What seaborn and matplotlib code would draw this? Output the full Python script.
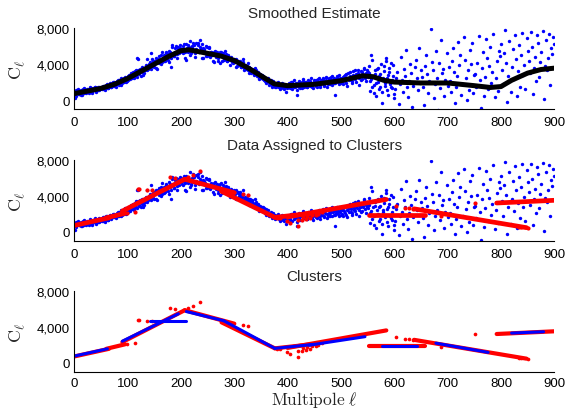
import numpy as np
import pandas as pd
import matplotlib
matplotlib.use('Agg')
import matplotlib.pyplot as plt
import seaborn as sns

# observed power spectrum, C_l in units of 100, 25 values per row
# even multipoles l = 2, 4, ..., 900 (50 multipoles per row)
ell_even = np.arange(2, 902, 2)
cl_even_rows = [
    [2, 11, 9, 7, 10, 6, 9, 12, 8, 10, 9, 12, 10, 8, 11, 13, 9, 12, 14, 10, 12, 11, 15, 12, 14],
    [15, 12, 16, 13, 17, 14, 13, 18, 15, 19, 16, 20, 17, 15, 21, 18, 22, 19, 17, 23, 21, 25, 20, 24, 27],
    [27, 23, 29, 25, 31, 26, 30, 34, 47, 46, 29, 35, 31, 28, 36, 33, 38, 46, 35, 40, 36, 52, 46, 38, 44],
    [44, 36, 46, 41, 45, 50, 42, 47, 50, 44, 53, 46, 51, 42, 53, 37, 61, 49, 54, 60, 47, 57, 52, 58, 55],
    [57, 52, 62, 54, 45, 58, 61, 50, 53, 60, 64, 56, 52, 63, 55, 61, 54, 67, 57, 47, 58, 55, 49, 59, 52],
    [58, 49, 53, 50, 44, 54, 51, 48, 52, 43, 50, 53, 43, 49, 45, 55, 48, 44, 50, 46, 39, 48, 44, 41, 46],
    [45, 37, 44, 39, 42, 37, 41, 46, 36, 39, 35, 38, 41, 30, 36, 31, 35, 29, 36, 30, 27, 31, 23, 29, 25],
    [28, 23, 26, 21, 25, 20, 24, 19, 22, 17, 21, 16, 19, 15, 18, 20, 14, 17, 13, 19, 15, 18, 9, 16, 14],
    [18, 14, 20, 12, 17, 22, 15, 19, 6, 16, 21, 13, 18, 23, 15, 20, 17, 14, 22, 19, 16, 24, 18, 13, 20],
    [21, 16, 23, 18, 14, 22, 19, 25, 17, 21, 26, 15, 20, 24, 18, 22, 27, 19, 6, 23, 25, 20, 28, 22, 19],
    [24, 18, 27, 21, 29, 16, 25, 31, 22, 19, 28, 24, 33, 20, 26, 30, 17, 27, 32, 23, 29, 35, 21, 28, 31],
    [30, 21, 50, 14, 27, 8, 33, 19, 24, 36, 12, 29, -3, 22, 38, 16, 43, 25, 6, 31, 18, 41, 13, 27, 2],
    [12, 25, 31, -4, 18, 48, 22, 9, 35, 27, 56, 14, 3, 21, 40, 30, -8, 16, 37, 45, 24, 11, 58, 19, 33],
    [26, 15, -6, 38, 50, 29, 8, 21, 79, 42, 33, 2, 18, 55, 24, -11, 41, 13, 67, 30, 35, 4, 22, 52, 16],
    [37, 21, 9, 44, 58, 31, -3, 14, 27, 65, 39, 50, 6, 18, 70, 45, 25, 0, 33, 11, 56, 40, 63, 8, 28],
    [29, 15, 41, 71, 22, -9, 36, 53, 5, 26, 68, 47, 12, 38, 59, 19, 31, 74, 3, 24, 43, 10, 55, 49, 62],
    [34, 18, 52, 78, 41, -2, 27, 66, 9, 37, 57, 23, 73, 46, 4, 32, 61, 15, 50, 75, 28, 39, 12, 69, 55],
    [44, 30, 76, 59, 7, 36, 48, 21, 72, 64, 26, 42, 53, 77, 1, 38, 67, 33, 47, 74, 17, 58, 51, 70, 62],
]
# odd multipoles l = 1, 3, ..., 599
ell_odd = np.arange(1, 601, 2)
cl_odd_rows = [
    [8, 5, 10, 12, 7, 9, 11, 6, 10, 13, 8, 11, 9, 12, 14, 10, 8, 13, 11, 15, 9, 12, 14, 11, 13],
    [12, 16, 14, 11, 15, 18, 13, 16, 19, 14, 17, 20, 16, 19, 18, 22, 17, 21, 24, 19, 23, 20, 26, 22, 21],
    [22, 28, 24, 30, 27, 24, 32, 28, 26, 34, 30, 33, 27, 37, 32, 30, 36, 39, 33, 37, 42, 35, 39, 43, 37],
    [42, 47, 35, 44, 49, 43, 40, 54, 46, 43, 52, 48, 45, 55, 50, 47, 59, 52, 49, 58, 53, 51, 59, 55, 61],
    [53, 60, 56, 47, 62, 57, 54, 59, 66, 52, 58, 55, 61, 48, 57, 64, 53, 59, 56, 62, 47, 57, 54, 60, 49],
    [51, 59, 48, 54, 52, 42, 55, 50, 53, 47, 51, 41, 54, 49, 52, 46, 50, 51, 43, 49, 45, 47, 42, 45, 43],
    [42, 46, 38, 43, 40, 44, 37, 39, 42, 34, 38, 35, 33, 37, 34, 30, 34, 32, 28, 31, 33, 28, 30, 25, 28],
    [25, 27, 22, 24, 19, 23, 21, 17, 20, 18, 15, 19, 17, 14, 16, 18, 15, 12, 17, 14, 16, 12, 15, 17, 13],
    [15, 19, 13, 17, 20, 14, 18, 16, 11, 19, 15, 20, 17, 13, 21, 18, 16, 20, 14, 18, 21, 17, 15, 19, 22],
    [18, 22, 15, 20, 24, 17, 21, 19, 23, 16, 25, 20, 18, 23, 21, 26, 17, 22, 24, 19, 21, 27, 23, 18, 25],
    [20, 26, 23, 28, 19, 24, 30, 22, 27, 25, 21, 32, 26, 23, 29, 34, 24, 28, 22, 31, 27, 36, 25, 30, 33],
    [26, 38, 10, 23, 45, 17, 29, 4, 35, 20, 27, 14, 40, 9, 24, 32, 19, 47, 11, 28, 36, 15, 22, 39, 7],
]

# smoothed estimate
smooth_l = [0, 25, 50, 75, 100, 125, 150, 175, 200, 215, 250, 275, 300, 325, 350, 375, 400,
            450, 500, 540, 560, 580, 600, 650, 700, 750, 780, 800, 820, 850, 875, 900]
smooth_v = [720, 1000, 1300, 1750, 2400, 3200, 4000, 4800, 5500, 5600, 5200, 4900, 4400, 3600,
            2700, 1800, 1600, 1750, 2150, 2700, 2600, 2200, 2000, 1900, 1900, 1600, 1400, 1500,
            2200, 3000, 3400, 3550]

# data assigned to clusters (dense runs)
seg_l0 = [0, 60, 90, 207, 276, 376, 400, 552, 637, 792]
seg_v0 = [700, 1550, 2300, 5850, 4500, 1600, 1650, 1850, 2550, 3200]
seg_l1 = [65, 95, 207, 300, 376, 445, 585, 658, 848, 900]
seg_v1 = [1550, 2050, 5850, 4350, 1600, 2050, 3600, 1850, 450, 3500]

# assigned points off the dense runs
red_l = [98, 114, 119, 122, 136, 145, 179, 189, 214, 222, 236, 316, 325, 380, 386, 398, 404,
         419, 420, 426, 428, 434, 436, 442, 446, 454, 456, 464, 603, 620, 627, 635, 688, 751,
         834, 838, 851]
red_v = [2080, 2250, 4760, 4760, 4650, 4650, 6150, 5990, 6070, 6370, 6740, 4200, 4090, 1500,
         1500, 1230, 930, 590, 1350, 1300, 1600, 1410, 1700, 1520, 1850, 1900, 1950, 2160, 2860,
         2640, 2600, 2520, 1800, 3160, 560, 560, 400]

# cluster line fits
fit_l0 = [0, 90, 142, 210, 280, 376, 440, 576, 678, 820]
fit_v0 = [740, 2400, 4650, 5700, 4680, 1600, 1950, 1850, 2180, 3300]
fit_l1 = [62, 195, 210, 280, 376, 450, 545, 642, 776, 880]
fit_v1 = [1550, 5450, 4650, 4680, 1600, 2050, 2900, 1850, 1150, 3450]


def seg_frame(l0, v0, l1, v1):
    rows = []
    for i in range(len(l0)):
        rows.append((i, l0[i], v0[i]))
        rows.append((i, l1[i], v1[i]))
    return pd.DataFrame(rows, columns=['seg', 'l', 'v'])


sns.set_style('white')
plt.rcParams['font.family'] = ['Liberation Sans', 'DejaVu Sans']
plt.rcParams['mathtext.fontset'] = 'cm'

df = pd.DataFrame({
    'l': np.concatenate([ell_even, ell_odd]),
    'cl': np.array(sum(cl_even_rows, []) + sum(cl_odd_rows, [])) * 100,
})
segs = seg_frame(seg_l0, seg_v0, seg_l1, seg_v1)
fits = seg_frame(fit_l0, fit_v0, fit_l1, fit_v1)
smooth = pd.DataFrame({'l': smooth_l, 'v': smooth_v})
reds = pd.DataFrame({'l': red_l, 'v': red_v})

fig = plt.figure(figsize=(5.72, 4.10), dpi=100)
left, width, height = 0.130, 0.839, 0.197
bottoms = [0.7317, 0.4105, 0.0910]
titles = ['Smoothed Estimate', 'Data Assigned to Clusters', 'Clusters']
axes = [fig.add_axes([left, b, width, height]) for b in bottoms]

# top: data + smoothed estimate
ax = axes[0]
sns.scatterplot(data=df, x='l', y='cl', color='#0000ff', s=6, linewidth=0, ax=ax)
sns.lineplot(data=smooth, x='l', y='v', color='black', lw=3.6, ax=ax)

# middle: data + assigned cluster points
ax = axes[1]
sns.scatterplot(data=df, x='l', y='cl', color='#0000ff', s=6, linewidth=0, ax=ax)
sns.lineplot(data=segs, x='l', y='v', units='seg', estimator=None, color='#ff0000', lw=3.4, ax=ax)
sns.scatterplot(data=reds, x='l', y='v', color='#ff0000', s=9, linewidth=0, ax=ax)

# bottom: clusters with their line fits
ax = axes[2]
sns.lineplot(data=segs, x='l', y='v', units='seg', estimator=None, color='#ff0000', lw=3.0, ax=ax)
sns.scatterplot(data=reds, x='l', y='v', color='#ff0000', s=7, linewidth=0, ax=ax)
sns.lineplot(data=fits, x='l', y='v', units='seg', estimator=None, color='#0000ff', lw=2.2, ax=ax)

for ax, t in zip(axes, titles):
    ax.set_xlim(0, 900)
    ax.set_ylim(-1000, 8000)
    ax.set_xticks(range(0, 901, 100))
    ax.set_yticks([0, 2000, 4000, 6000, 8000])
    ax.set_yticklabels(['0', '', '4,000', '', '8,000'])
    ax.tick_params(direction='in', length=3.5, width=0.8, labelsize=9.5, colors='black')
    ax.tick_params(axis='x', pad=5)
    ax.tick_params(axis='y', pad=3.5)
    for side in ['top', 'right']:
        ax.spines[side].set_visible(False)
    for side in ['left', 'bottom']:
        ax.spines[side].set_color('black')
        ax.spines[side].set_linewidth(0.8)
    ax.set_title(t, fontsize=11, pad=8)
    ax.set_ylabel(r'$\mathrm{C}_\ell$', fontsize=13, labelpad=7)
    ax.set_xlabel('')

axes[2].tick_params(axis='x', pad=4)
axes[2].set_xlabel(r'$\mathrm{Multipole}\ \ell$', fontsize=12.5, labelpad=0)

fig.savefig('out.png', dpi=100)
